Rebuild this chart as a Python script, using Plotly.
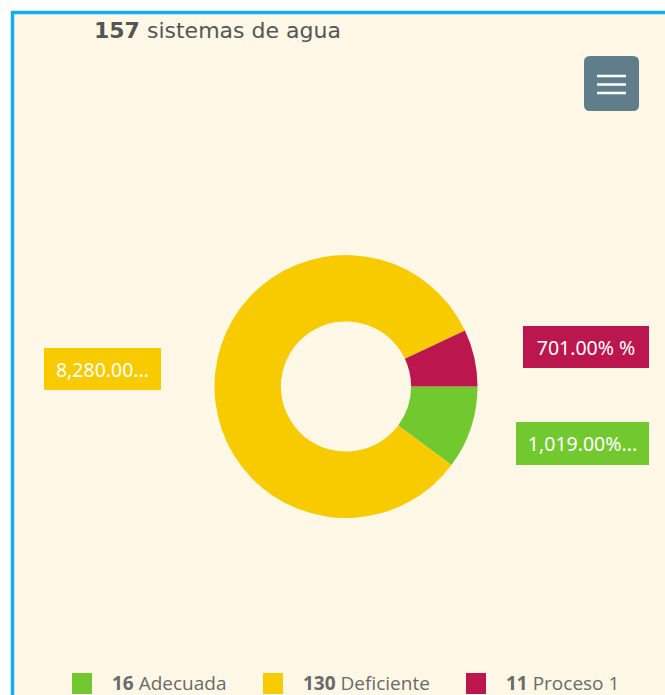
import plotly.graph_objs as go

W, H = 665, 695

# datos
categorias = ['Adecuada', 'Deficiente', 'Proceso 1']
sistemas = [16, 130, 11]
etiquetas = ['1,019.00%...', '8,280.00...', '701.00% %']
colores = ['#72C92F', '#F8CB00', '#BC164F']
total = 157


def px(x):
    return x / W


def py(y):
    return 1 - y / H


def rounded_rect(x0, y0, x1, y1, r):
    # rectangulo con esquinas redondeadas (pixeles -> paper)
    pts = [
        f'M {px(x0 + r)} {py(y0)}',
        f'L {px(x1 - r)} {py(y0)}',
        f'Q {px(x1)} {py(y0)} {px(x1)} {py(y0 + r)}',
        f'L {px(x1)} {py(y1 - r)}',
        f'Q {px(x1)} {py(y1)} {px(x1 - r)} {py(y1)}',
        f'L {px(x0 + r)} {py(y1)}',
        f'Q {px(x0)} {py(y1)} {px(x0)} {py(y1 - r)}',
        f'L {px(x0)} {py(y0 + r)}',
        f'Q {px(x0)} {py(y0)} {px(x0 + r)} {py(y0)}',
        'Z',
    ]
    return ' '.join(pts)


fig = go.Figure()

# dona
cx, cy, rad = 346, 386.5, 131.5
fig.add_trace(go.Pie(
    labels=categorias,
    values=sistemas,
    marker=dict(colors=colores, line=dict(width=0)),
    hole=0.495,
    sort=False,
    direction='clockwise',
    rotation=90,
    textinfo='none',
    showlegend=False,
    domain=dict(x=[px(cx - rad), px(cx + rad)], y=[py(cy + rad), py(cy - rad)]),
))

shapes = []
annotations = []

# tarjeta con borde azul
shapes.append(dict(type='rect', xref='paper', yref='paper', layer='below',
                   x0=px(12.5), x1=px(W + 20), y0=py(H + 20), y1=py(12.5),
                   fillcolor='#FFF8E7', line=dict(color='#0DB0F0', width=3.5)))

# boton menu
shapes.append(dict(type='path', xref='paper', yref='paper',
                   path=rounded_rect(584, 56, 639, 111, 6),
                   fillcolor='#607D8B', line=dict(width=0)))
for yy in [76, 84.5, 93]:
    shapes.append(dict(type='line', xref='paper', yref='paper',
                       x0=px(597), x1=px(626), y0=py(yy), y1=py(yy),
                       line=dict(color='white', width=2.5)))

# titulo
annotations.append(dict(
    x=px(92), y=py(31), xref='paper', yref='paper', xanchor='left', yanchor='middle',
    showarrow=False,
    text=f'<b>{total}</b> sistemas de agua',
    font=dict(family='DejaVu Sans', size=22, color='#555555'),
))

# etiquetas de datos en cajas
cajas = [(516, 422, 649, 465), (44, 348, 161, 390), (523, 326, 649, 368)]
for (x0, y0, x1, y1), txt, col in zip(cajas, etiquetas, colores):
    pad = 2
    annotations.append(dict(
        x=px((x0 + x1) / 2), y=py((y0 + y1) / 2), xref='paper', yref='paper',
        xanchor='center', yanchor='middle', showarrow=False,
        text=txt, bgcolor=col, borderpad=pad, borderwidth=0,
        width=x1 - x0 - 2 * pad, height=y1 - y0 - 2 * pad, align='center', valign='middle',
        font=dict(family='Noto Sans', size=19.5, color='white'),
    ))

# leyenda
leyenda_x = [72, 263, 466]
for lx, n, cat, col in zip(leyenda_x, sistemas, categorias, colores):
    shapes.append(dict(type='rect', xref='paper', yref='paper',
                       x0=px(lx), x1=px(lx + 20), y0=py(694), y1=py(673),
                       fillcolor=col, line=dict(width=0)))
    annotations.append(dict(
        x=px(lx + 38), y=py(683), xref='paper', yref='paper',
        xanchor='left', yanchor='middle', showarrow=False,
        text=f'<b>{n}</b> {cat}',
        font=dict(family='Open Sans', size=19, color='#6A6A6A'),
    ))

fig.update_layout(
    width=W, height=H,
    margin=dict(l=0, r=0, t=0, b=0),
    paper_bgcolor='white',
    plot_bgcolor='white',
    shapes=shapes,
    annotations=annotations,
)

# quitar el margen del body para que la figura empiece en (0, 0)
fig.write_html('out.html', config={'displayModeBar': False},
               post_script="document.body.style.margin='0px';")
